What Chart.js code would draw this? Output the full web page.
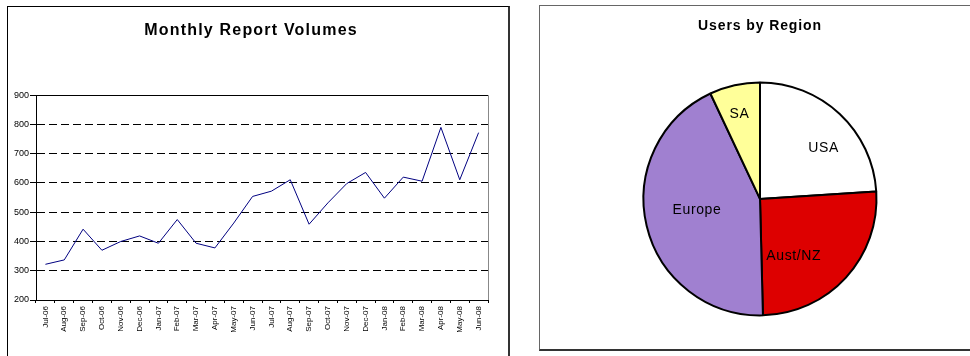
<!DOCTYPE html>
<html>
<head>
<meta charset="utf-8">
<title>Report volumes and users</title>
<script src="https://cdn.jsdelivr.net/npm/chart.js@4/dist/chart.umd.min.js"></script>
<style>
  html, body { margin: 0; padding: 0; background: #fff; overflow: hidden; width: 970px; height: 356px; }
  .panel { position: absolute; background: #fff; box-sizing: border-box; }
  #volPanel { left: 7px; top: 6px; width: 503px; height: 360px;
              border-left: 1px solid #000; border-top: 1px solid #000; border-right: 2px solid #333; }
  #regionPanel { left: 539px; top: 5px; width: 445px; height: 346px;
                 border: 1px solid #666; border-bottom: 2px solid #333; }
  canvas { display: block; }
</style>
</head>
<body>
<div class="panel" id="volPanel"><canvas id="volumes" width="500" height="349"></canvas></div>
<div class="panel" id="regionPanel"><canvas id="regions" width="440" height="343"></canvas></div>

<script>
// Monthly report volumes, July 2006 to June 2008
const months = ['Jul-06', 'Aug-06', 'Sep-06', 'Oct-06', 'Nov-06', 'Dec-06',
                'Jan-07', 'Feb-07', 'Mar-07', 'Apr-07', 'May-07', 'Jun-07',
                'Jul-07', 'Aug-07', 'Sep-07', 'Oct-07', 'Nov-07', 'Dec-07',
                'Jan-08', 'Feb-08', 'Mar-08', 'Apr-08', 'May-08', 'Jun-08'];
const reportVolumes = [322, 337, 442, 370, 400, 419,
                       394, 475, 394, 378, 463, 554,
                       572, 611, 459, 532, 598, 636,
                       548, 620, 606, 790, 611, 772];
const volumeTicks = { min: 200, max: 900, step: 100 };

// Share of users by region (per cent)
const regions = ['USA', 'Aust/NZ', 'Europe', 'SA'];
const regionShare = [24, 25.6, 43.4, 7];

const FONT = "'Liberation Sans', Arial, sans-serif";
Chart.defaults.font.family = FONT;
Chart.defaults.color = '#000';

// Widen the lettering of selected text blocks (titles, value axis labels)
const textSpacing = {
  id: 'textSpacing',
  afterUpdate(chart, args, opts) {
    const spaced = (obj, method, px) => {
      if (!obj || !px || obj['_spaced_' + method]) return;
      const fn = obj[method];
      obj[method] = function (...a) {
        const c = chart.ctx;
        const prev = c.letterSpacing;
        c.letterSpacing = px + 'px';
        try { return fn.apply(this, a); } finally { c.letterSpacing = prev; }
      };
      obj['_spaced_' + method] = true;
    };
    spaced(chart.titleBlock, 'draw', opts.title);
    if (chart.scales && chart.scales.y) spaced(chart.scales.y, 'drawLabels', opts.y);
  }
};

// Solid top edge and grey right edge around the plot area
const plotFrame = {
  id: 'plotFrame',
  beforeDatasetsDraw(chart) {
    const { ctx, chartArea: a } = chart;
    ctx.save();
    ctx.lineWidth = 1;
    ctx.strokeStyle = '#000';
    ctx.beginPath();
    ctx.moveTo(a.left, Math.round(a.top) + 0.5);
    ctx.lineTo(a.right, Math.round(a.top) + 0.5);
    ctx.stroke();
    ctx.strokeStyle = '#888';
    ctx.beginPath();
    ctx.moveTo(Math.round(a.right) + 0.5, a.top);
    ctx.lineTo(Math.round(a.right) + 0.5, a.bottom);
    ctx.stroke();
    ctx.restore();
  }
};

new Chart(document.getElementById('volumes'), {
  type: 'line',
  data: {
    labels: months,
    datasets: [{
      data: reportVolumes,
      borderColor: '#000080',
      borderWidth: 1,
      pointRadius: 0,
      tension: 0,
      fill: false
    }]
  },
  options: {
    responsive: false,
    animation: false,
    layout: { padding: { left: 6, right: 20, top: 0, bottom: 0 } },
    plugins: {
      legend: { display: false },
      tooltip: { enabled: false },
      title: {
        display: true,
        text: 'Monthly Report Volumes',
        color: '#000',
        font: { family: FONT, size: 16, weight: 'bold' },
        padding: { top: 14, bottom: 55 }
      },
      textSpacing: { title: 1.2 }
    },
    scales: {
      x: {
        type: 'category',
        offset: true,
        grid: { offset: true, drawOnChartArea: false, tickLength: 3, color: '#000' },
        border: { color: '#000', width: 1 },
        ticks: { font: { size: 8 }, color: '#000', minRotation: 90, maxRotation: 90,
                 autoSkip: false, padding: 3 },
        afterFit(scale) { scale.height = 56; }
      },
      y: {
        min: volumeTicks.min,
        max: volumeTicks.max,
        grid: {
          color: (c) => (c.tick && (c.tick.value === volumeTicks.min || c.tick.value === volumeTicks.max))
            ? 'rgba(0,0,0,0)' : '#000',
          tickColor: '#000',
          lineWidth: 1,
          tickLength: 6
        },
        border: { color: '#000', width: 1, dash: [8, 4] },
        ticks: { stepSize: volumeTicks.step, font: { size: 9 }, color: '#000', padding: 1 },
        afterFit(scale) { scale.width = 22; }
      }
    }
  },
  plugins: [textSpacing, plotFrame]
});

// Slice colours and label placement inside each slice
const regionColors = ['#ffffff', '#dd0000', '#a080d0', '#ffff99'];
const labelDist = [0.70, 0.57, 0.55, 0.75];
const labelTurn = [8, 17, 3, -1];

const sliceLabels = {
  id: 'sliceLabels',
  afterDatasetsDraw(chart) {
    const { ctx } = chart;
    const meta = chart.getDatasetMeta(0);
    ctx.save();
    ctx.font = '14px ' + FONT;
    ctx.letterSpacing = '0.6px';
    ctx.fillStyle = '#000';
    ctx.textAlign = 'center';
    ctx.textBaseline = 'middle';
    meta.data.forEach((arc, i) => {
      const p = arc.getProps(['x', 'y', 'startAngle', 'endAngle', 'outerRadius'], true);
      const mid = (p.startAngle + p.endAngle) / 2 + labelTurn[i] * Math.PI / 180;
      const r = p.outerRadius * labelDist[i];
      ctx.fillText(chart.data.labels[i], p.x + Math.cos(mid) * r, p.y + Math.sin(mid) * r);
    });
    ctx.restore();
  }
};

new Chart(document.getElementById('regions'), {
  type: 'pie',
  data: {
    labels: regions,
    datasets: [{
      data: regionShare,
      backgroundColor: regionColors,
      borderColor: '#000',
      borderWidth: 2
    }]
  },
  options: {
    responsive: false,
    animation: false,
    layout: { padding: { left: 102.5, right: 102.5, top: 0, bottom: 32 } },
    plugins: {
      legend: { display: false },
      tooltip: { enabled: false },
      title: {
        display: true,
        text: 'Users by Region',
        color: '#000',
        font: { family: FONT, size: 14, weight: 'bold' },
        padding: { top: 12, bottom: 46 }
      },
      textSpacing: { title: 0.9 }
    }
  },
  plugins: [textSpacing, sliceLabels]
});
</script>
</body>
</html>
